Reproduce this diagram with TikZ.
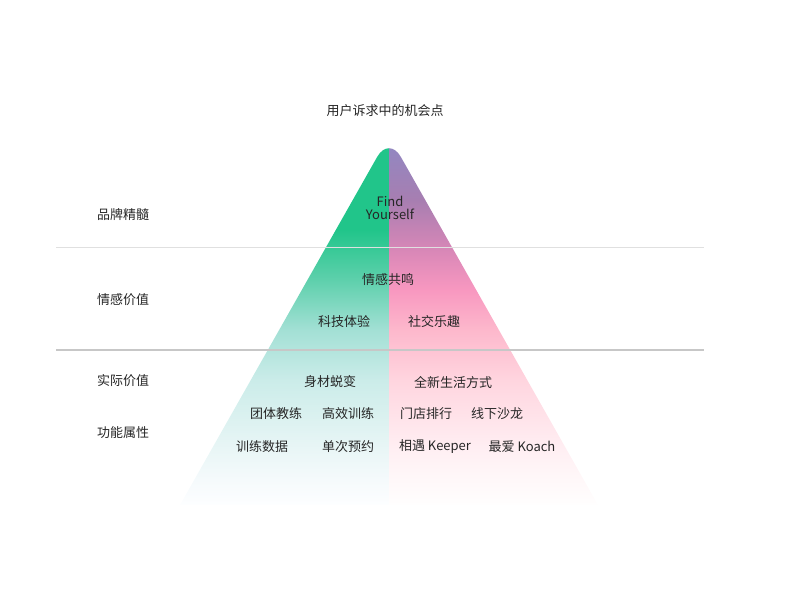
\documentclass[tikz,border=0pt]{standalone}
\usepackage{fontspec}
\newfontfamily\cjk{Noto Sans CJK SC}
\usepackage{tikz}
\usetikzlibrary{positioning}

\definecolor{greentop}{HTML}{21C58A}
\definecolor{greenA}{HTML}{5ED0AC}
\definecolor{greenB}{HTML}{A3E0D5}
\definecolor{greenC}{HTML}{CBECE9}
\definecolor{greenD}{HTML}{E9F6F6}
\definecolor{greenE}{HTML}{F5FAFC}
\definecolor{greenbase}{HTML}{FDFEFF}
\definecolor{purpletop}{HTML}{8E89C4}
\definecolor{pinkA}{HTML}{A77EB1}
\definecolor{pinkB}{HTML}{D887B7}
\definecolor{pinkC}{HTML}{F898C0}
\definecolor{pinkD}{HTML}{FDB8CC}
\definecolor{pinkE}{HTML}{FFD5DF}
\definecolor{pinkF}{HTML}{FFEFF3}
\definecolor{pinkG}{HTML}{FFF8F9}
\definecolor{pinkbase}{HTML}{FFFEFE}

\pgfdeclareverticalshading{greenfade}{100bp}{color(0bp)=(greenbase); color(25bp)=(greenbase); color(28.4bp)=(greenE); color(32.5bp)=(greenD); color(41.9bp)=(greenC); color(48.7bp)=(greenB); color(55.5bp)=(greenA); color(62.3bp)=(greentop); color(75bp)=(greentop); color(100bp)=(greentop)}
\pgfdeclareverticalshading{pinkfade}{100bp}{color(0bp)=(pinkbase); color(25bp)=(pinkbase); color(28.4bp)=(pinkG); color(32.5bp)=(pinkF); color(41.9bp)=(pinkE); color(48.7bp)=(pinkD); color(54.1bp)=(pinkC); color(59.6bp)=(pinkB); color(66.3bp)=(pinkA); color(75bp)=(purpletop); color(100bp)=(purpletop)}

\tikzset{
  txt/.style={font=\cjk\fontsize{13}{13}\selectfont,text=black!85,inner sep=0pt,align=center},
  rule/.style={line width=1pt,black!12},
  rulestrong/.style={line width=1.5pt,black!22}
}

\begin{document}
\begin{tikzpicture}[x=1pt,y=-1pt]
  \useasboundingbox (0,0) rectangle (800,598);

  % pyramid
  \begin{scope}
    \clip (180,505) [rounded corners=24pt] -- (389,136) [sharp corners] -- (598,505) -- cycle;
    \shade[shading=greenfade] (170,136) rectangle (389,505);
    \shade[shading=pinkfade] (389,136) rectangle (608,505);
  \end{scope}

  % level rules
  \draw[rule] (56,247) -- (704,247);
  \draw[rulestrong] (56,350) -- (704,350);

  \node[txt] (title) at (385,111) {用户诉求中的机会点};

  \node[txt] (brand) at (123,215) {品牌精髓};
  \node[txt] (emotion) at (123,300) {情感价值};
  \node[txt] (practical) at (123,381) {实际价值};
  \node[txt] (function) at (123,433) {功能属性};

  \node[txt] (find) at (390,208) {Find\\Yourself};

  \node[txt] (resonance) at (388,280) {情感共鸣};
  \node[txt] (tech) at (344,322) {科技体验};
  \node[txt] (social) at (434,322) {社交乐趣};

  \node[txt] (body) at (330,382) {身材蜕变};
  \node[txt] (life) at (453,382) {全新生活方式};

  \node[txt] (coach) at (276,414) {团体教练};
  \node[txt] (efficient) at (348,414) {高效训练};
  \node[txt] (rank) at (426,414) {门店排行};
  \node[txt] (salon) at (497,414) {线下沙龙};

  \node[txt] (data) at (262,447) {训练数据};
  \node[txt] (booking) at (348,447) {单次预约};
  \node[txt] (keeper) at (435,447) {相遇 Keeper};
  \node[txt] (koach) at (522,447) {最爱 Koach};
\end{tikzpicture}
\end{document}
